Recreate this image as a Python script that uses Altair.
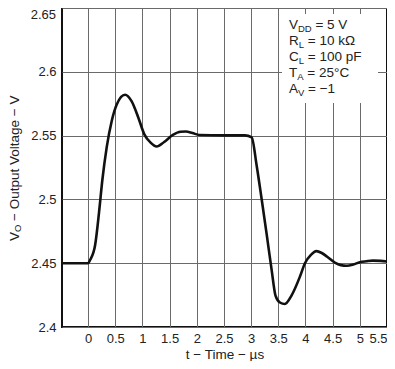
import altair as alt
import pandas as pd

# ---- data ----
time_us = [-0.48, 0.0, 0.037, 0.129, 0.202, 0.263, 0.343, 0.435, 0.527, 0.68, 0.80,
           0.925, 1.035, 1.15, 1.26, 1.40, 1.56, 1.70, 1.80, 1.92, 2.05, 2.5, 2.886,
           3.01, 3.10, 3.19, 3.285, 3.377, 3.45, 3.53, 3.62, 3.74, 3.90, 3.99, 4.10,
           4.20, 4.30, 4.40, 4.54, 4.65, 4.76, 4.88, 5.0, 5.12, 5.24, 5.38, 5.5]
volts = [2.45, 2.45, 2.4525, 2.464, 2.490, 2.5154, 2.541, 2.5615, 2.5744, 2.582, 2.577,
         2.564, 2.551, 2.5445, 2.5415, 2.545, 2.5505, 2.553, 2.5532, 2.552, 2.5505, 2.5502, 2.5502,
         2.5487, 2.527, 2.5013, 2.473, 2.4448, 2.4244, 2.4192, 2.418, 2.4244, 2.4397, 2.45, 2.4565,
         2.4595, 2.458, 2.455, 2.4505, 2.4485, 2.448, 2.449, 2.4508, 2.4515, 2.452, 2.4518, 2.4513]

x_ticks = [0, 0.5, 1, 1.5, 2, 2.5, 3, 3.5, 4, 4.5, 5, 5.5]
y_ticks = [2.4, 2.45, 2.5, 2.55, 2.6, 2.65]
y_top_label = "2.65"

x_title = "t − Time − µs"
y_title_main = "V"
y_title_sub = "O"
y_title_rest = "− Output Voltage − V"

cond_main = ["V", "R", "C", "T", "A"]
cond_sub = ["DD", "L", "L", "A", "V"]
cond_rest = ["= 5 V", "= 10 kΩ", "= 100 pF", "= 25°C", "= −1"]

FONT = "Liberation Sans"
M = 13.5   # main font size
S = 9.5    # subscript font size
SPACE = 0.278 * M

# approximate Arial advance widths (em)
W = {"V": 0.667, "R": 0.722, "C": 0.722, "T": 0.611, "A": 0.667, "D": 0.722, "L": 0.556, "O": 0.778}


def width(s, size):
    return sum(W.get(c, 0.556) for c in s) * size


df = pd.DataFrame({"t": time_us, "v": volts})

PW, PH = 325, 319

xscale = alt.Scale(domain=[-0.48, 5.5], nice=False, zero=False)
yscale = alt.Scale(domain=[2.4, 2.65], nice=False, zero=False)

line = alt.Chart(df).mark_line(color="#111", strokeWidth=2.6, interpolate="monotone").encode(
    x=alt.X("t:Q", scale=xscale,
            axis=alt.Axis(values=x_ticks, title=x_title, grid=True, ticks=False, domain=False,
                          labelPadding=5, labelFontSize=13, labelFont=FONT, labelColor="#222",
                          titleFont=FONT, titleFontSize=13.5, titleFontWeight="normal",
                          titleColor="#222", titlePadding=2, gridColor="#6a6a6a", gridWidth=1,
                          labelFlush=True, labelOverlap=False, format="~g")),
    y=alt.Y("v:Q", scale=yscale,
            axis=alt.Axis(values=y_ticks, title=None, grid=True, ticks=False, domain=False,
                          labelPadding=6, labelFontSize=13, labelFont=FONT, labelColor="#222",
                          gridColor="#6a6a6a", gridWidth=1, labelFlush=False, labelOverlap=False,
                          format="~g",
                          labelExpr="datum.value > 2.649 ? '' : datum.label")),
)

# top y label drawn separately so it is not cut at the page edge
top_label = alt.Chart(pd.DataFrame({"a": [0]})).mark_text(
    text=y_top_label, align="right", baseline="top", font=FONT, fontSize=13,
    color="#222", dy=1
).encode(x=alt.value(-6), y=alt.value(0))

# white box behind the conditions text
box = alt.Chart(pd.DataFrame({"a": [0]})).mark_rect(color="white").encode(
    x=alt.value(220), x2=alt.value(316), y=alt.value(6), y2=alt.value(95)
)

# conditions text pieces
rows = []
x0 = 227
for i, (m, s, r) in enumerate(zip(cond_main, cond_sub, cond_rest)):
    yb = 21 + 16.1 * i
    wm = width(m, M)
    ws = width(s, S)
    rows.append({"txt": m, "py": yb, "dx": 0, "dy": 0, "size": M})
    rows.append({"txt": s, "py": yb, "dx": wm, "dy": 3, "size": S})
    rows.append({"txt": r, "py": yb, "dx": wm + ws + SPACE, "dy": 0, "size": M})

text_layers = []
for row in rows:
    text_layers.append(
        alt.Chart(pd.DataFrame({"a": [0]})).mark_text(
            text=row["txt"], align="left", baseline="alphabetic", font=FONT,
            fontSize=row["size"], color="#222", dx=row["dx"], dy=row["dy"]
        ).encode(x=alt.value(x0), y=alt.value(row["py"]))
    )

# rotated y-axis title with subscript
wV = width(y_title_main, M)
wO = width(y_title_sub, S)
rest_w = 127.0
total = wV + wO + SPACE + rest_w
ystart = PH / 2 + total / 2
ytx = -47
yt_layers = [
    alt.Chart(pd.DataFrame({"a": [0]})).mark_text(
        text=y_title_main, angle=270, align="left", baseline="middle", font=FONT,
        fontSize=M, color="#222").encode(x=alt.value(ytx), y=alt.value(ystart)),
    alt.Chart(pd.DataFrame({"a": [0]})).mark_text(
        text=y_title_sub, angle=270, align="left", baseline="middle", font=FONT,
        fontSize=S, color="#222", dx=wV, dy=3).encode(x=alt.value(ytx), y=alt.value(ystart)),
    alt.Chart(pd.DataFrame({"a": [0]})).mark_text(
        text=y_title_rest, angle=270, align="left", baseline="middle", font=FONT,
        fontSize=M, color="#222", dx=wV + wO + SPACE).encode(x=alt.value(ytx), y=alt.value(ystart)),
]

chart = alt.layer(box, line, top_label, *text_layers, *yt_layers).properties(
    width=PW, height=PH,
    autosize=alt.AutoSizeParams(type="none"),
    padding={"left": 54, "top": 0, "right": 0, "bottom": 34},
).configure_view(stroke="#111", strokeWidth=2)

chart.save("out.html", embed_options={"renderer": "svg", "actions": False})
